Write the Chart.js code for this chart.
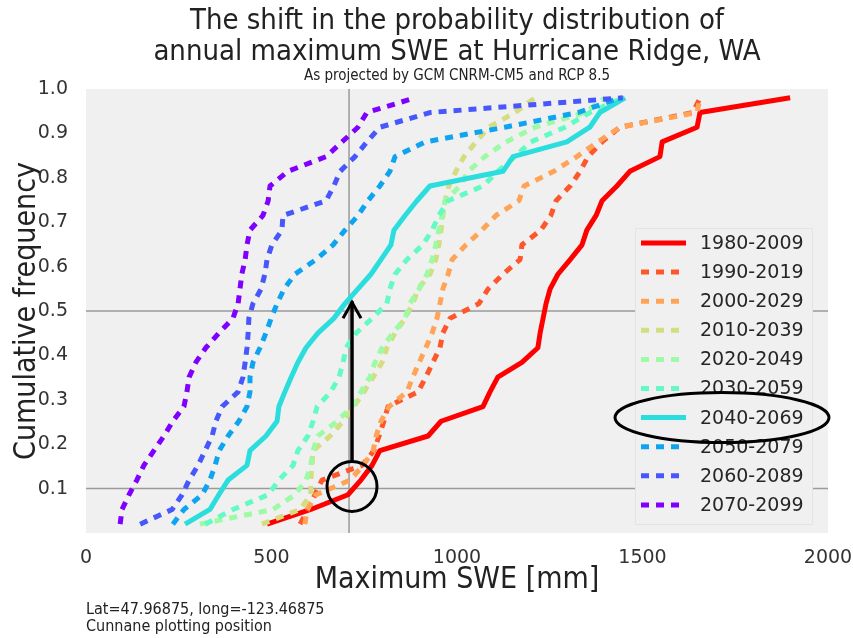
<!DOCTYPE html>
<html>
<head>
<meta charset="utf-8">
<script src="https://cdn.jsdelivr.net/npm/chart.js@4.4.0/dist/chart.umd.min.js"></script>
<style>
  html, body { margin: 0; padding: 0; background: #fff; }
  #wrap { width: 853px; height: 638px; }
</style>
</head>
<body>
<div id="wrap"><canvas id="chart" width="853" height="638"></canvas></div>
<script>
// 30-year periods, one CDF each
const periods = ['1980-2009', '1990-2019', '2000-2029', '2010-2039', '2020-2049',
                 '2030-2059', '2040-2069', '2050-2079', '2060-2089', '2070-2099'];

// Cunnane plotting positions for 30 sorted annual maxima
const probs = [0.0199, 0.0530, 0.0861, 0.1192, 0.1523, 0.1854, 0.2185, 0.2517, 0.2848, 0.3179,
               0.3510, 0.3841, 0.4172, 0.4503, 0.4834, 0.5166, 0.5497, 0.5828, 0.6159, 0.6490,
               0.6821, 0.7152, 0.7483, 0.7815, 0.8146, 0.8477, 0.8808, 0.9139, 0.9470, 0.9801];

// sorted annual maximum SWE [mm] per period
const swe1980 = [488, 606, 706, 741, 771, 792, 922, 957, 1070, 1089, 1110, 1175, 1218, 1224, 1232,
                 1240, 1251, 1272, 1305, 1337, 1350, 1375, 1391, 1431, 1466, 1547, 1553, 1647, 1655, 1898];
const swe1990 = [577, 598, 617, 636, 744, 776, 790, 803, 814, 895, 916, 935, 954, 962, 981,
                 1059, 1084, 1124, 1170, 1175, 1226, 1253, 1267, 1305, 1332, 1353, 1391, 1439, 1636, 1655];
const swe2000 = [590, 596, 620, 712, 747, 774, 782, 795, 817, 865, 881, 898, 916, 933, 946,
                 954, 962, 976, 987, 1024, 1067, 1105, 1167, 1181, 1261, 1323, 1380, 1439, 1647, 1655];
const swe2010 = [474, 577, 606, 606, 609, 612, 658, 693, 722, 749, 774, 798, 811, 833, 860,
                 881, 895, 927, 943, 951, 957, 962, 968, 978, 997, 1019, 1051, 1086, 1156, 1210];
const swe2020 = [307, 504, 563, 593, 606, 612, 625, 677, 717, 741, 765, 779, 798, 827, 860,
                 873, 898, 919, 933, 943, 951, 960, 968, 1008, 1030, 1075, 1132, 1210, 1345, 1399];
const swe2030 = [321, 396, 491, 520, 558, 571, 598, 612, 623, 660, 682, 693, 701, 728, 771,
                 811, 819, 833, 865, 908, 933, 951, 976, 1070, 1110, 1156, 1199, 1291, 1358, 1447];
const swe2040 = [267, 334, 358, 383, 434, 442, 485, 515, 520, 536, 553, 571, 593, 625, 668,
                 698, 733, 768, 795, 822, 830, 860, 892, 927, 1124, 1151, 1296, 1358, 1385, 1453];
const swe2050 = [234, 264, 313, 334, 348, 359, 383, 412, 434, 442, 442, 450, 469, 485, 499,
                 515, 534, 563, 620, 666, 698, 733, 760, 792, 819, 833, 914, 1129, 1326, 1439];
const swe2060 = [146, 232, 259, 278, 302, 321, 340, 350, 367, 410, 423, 429, 434, 437, 439,
                 450, 472, 482, 488, 501, 528, 531, 647, 668, 685, 725, 757, 792, 927, 1447];
const swe2070 = [92, 97, 116, 137, 156, 183, 210, 234, 264, 272, 278, 296, 323, 358, 396,
                 410, 415, 420, 429, 434, 442, 477, 491, 496, 544, 647, 690, 733, 757, 887];

const sweSeries = [swe1980, swe1990, swe2000, swe2010, swe2020,
                   swe2030, swe2040, swe2050, swe2060, swe2070];
const lineColors = ['#ff0000', '#ff572c', '#ffa457', '#d4dd80', '#9cfba4',
                    '#63fbc3', '#2bdddd', '#0ea4f0', '#4757fb', '#8000ff'];
const solidPeriods = ['1980-2009', '2040-2069'];

// reference lines: 10th percentile of 1980-2009 and the 0.1 / 0.5 levels
const refSwe = 709;
const refProbs = [0.1, 0.5];

const xTicks = [0, 500, 1000, 1500, 2000];

const TITLE_FONT = '"DejaVu Sans Condensed", "DejaVu Sans", sans-serif';
const BODY_FONT = '"DejaVu Sans", sans-serif';

const datasets = periods.map((p, i) => ({
    label: p,
    data: sweSeries[i].map((v, k) => ({ x: v, y: probs[k] })),
    borderColor: lineColors[i],
    borderWidth: 5,
    borderDash: solidPeriods.includes(p) ? [] : [8, 7],
    borderCapStyle: 'butt',
    borderJoinStyle: 'round',
    pointRadius: 0,
    tension: 0,
    fill: false,
    order: periods.length - i
}));

function strokeLine(ctx, x1, y1, x2, y2) {
    ctx.beginPath();
    ctx.moveTo(x1, y1);
    ctx.lineTo(x2, y2);
    ctx.stroke();
}

const decorPlugin = {
    id: 'decor',
    beforeDraw(chart) {
        const { ctx, chartArea: a } = chart;
        ctx.save();
        ctx.fillStyle = '#f0f0f0';
        ctx.fillRect(a.left, a.top, a.right - a.left, a.bottom - a.top);
        ctx.restore();
    },
    beforeDatasetsDraw(chart) {
        const { ctx, chartArea: a, scales: { x, y } } = chart;
        ctx.save();
        ctx.strokeStyle = '#9a9a9a';
        ctx.lineWidth = 1.5;
        const vx = x.getPixelForValue(refSwe);
        strokeLine(ctx, vx, a.top, vx, a.bottom);
        refProbs.forEach(p => {
            const py = y.getPixelForValue(p);
            strokeLine(ctx, a.left, py, a.right, py);
        });
        ctx.restore();
    },
    afterDatasetsDraw(chart) {
        const { ctx, chartArea: a, scales: { x, y } } = chart;
        ctx.save();

        // arrow from the circled 10th percentile up to the median level
        const ax = x.getPixelForValue(717);
        const y0 = y.getPixelForValue(0.16);
        const y1 = y.getPixelForValue(0.522);
        ctx.strokeStyle = '#000';
        ctx.lineWidth = 3.5;
        strokeLine(ctx, ax, y0, ax, y1);
        ctx.lineWidth = 3;
        ctx.lineJoin = 'miter';
        ctx.beginPath();
        ctx.moveTo(ax - 9, y1 + 17);
        ctx.lineTo(ax, y1 + 1);
        ctx.lineTo(ax + 9, y1 + 17);
        ctx.stroke();

        // circle
        ctx.beginPath();
        ctx.arc(ax, y.getPixelForValue(0.105), 25, 0, Math.PI * 2);
        ctx.stroke();

        // legend inside the axes
        const boxR = a.right - 15, boxB = a.bottom - 8;
        const boxL = boxR - 178, boxT = boxB - 297;
        ctx.fillStyle = '#f0f0f0';
        ctx.fillRect(boxL, boxT, boxR - boxL, boxB - boxT);
        ctx.strokeStyle = '#e4e4e4';
        ctx.lineWidth = 1;
        ctx.strokeRect(boxL + 0.5, boxT + 0.5, boxR - boxL - 1, boxB - boxT - 1);
        ctx.font = '19px ' + BODY_FONT;
        ctx.textBaseline = 'middle';
        ctx.textAlign = 'left';
        const rowY = [];
        chart.data.datasets.forEach((ds, i) => {
            const ry = boxT + 15 + i * 29.1;
            rowY.push(ry);
            ctx.strokeStyle = ds.borderColor;
            ctx.lineWidth = ds.borderWidth;
            ctx.lineCap = 'butt';
            ctx.setLineDash(ds.borderDash);
            strokeLine(ctx, boxL + 6, ry, boxL + 51, ry);
            ctx.setLineDash([]);
            ctx.fillStyle = '#262626';
            ctx.fillText(ds.label, boxL + 65, ry + 1);
        });

        // ellipse around the highlighted period
        const hi = periods.indexOf('2040-2069');
        ctx.strokeStyle = '#000';
        ctx.lineWidth = 3;
        ctx.beginPath();
        ctx.ellipse(boxL + 87, rowY[hi], 107, 25, 0, 0, Math.PI * 2);
        ctx.stroke();

        ctx.restore();
    },
    afterDraw(chart) {
        const { ctx, chartArea: a } = chart;
        const cx = (a.left + a.right) / 2;
        ctx.save();
        ctx.fillStyle = '#222';
        ctx.textAlign = 'center';
        ctx.textBaseline = 'alphabetic';
        ctx.font = '29px ' + TITLE_FONT;
        ctx.fillText('The shift in the probability distribution of', cx, 29, 546);
        ctx.fillText('annual maximum SWE at Hurricane Ridge, WA', cx, 60, 620);
        ctx.font = '15px ' + TITLE_FONT;
        ctx.fillText('As projected by GCM CNRM-CM5 and RCP 8.5', cx, 80, 364);
        ctx.textAlign = 'left';
        ctx.font = '16px ' + TITLE_FONT;
        ctx.fillText('Lat=47.96875, long=-123.46875', a.left, 614, 264);
        ctx.fillText('Cunnane plotting position', a.left, 631, 207);
        ctx.restore();
    }
};

new Chart(document.getElementById('chart'), {
    type: 'line',
    data: { datasets: datasets },
    plugins: [decorPlugin],
    options: {
        responsive: false,
        animation: false,
        devicePixelRatio: 1,
        layout: { padding: { top: 89, right: 25, bottom: 30, left: 0 } },
        scales: {
            x: {
                type: 'linear',
                min: 0,
                max: 2000,
                afterFit: s => {
                    s.height = 75;
                    s.paddingLeft = 0;
                    s.paddingRight = 0;
                },
                afterBuildTicks: s => { s.ticks = xTicks.map(v => ({ value: v })); },
                grid: { display: false },
                border: { display: false },
                ticks: {
                    color: '#333',
                    padding: 6,
                    font: { family: BODY_FONT, size: 19 },
                    callback: v => String(v)
                },
                title: {
                    display: true,
                    text: 'Maximum SWE [mm]',
                    color: '#222',
                    padding: { top: 0, bottom: 10 },
                    font: { family: TITLE_FONT, size: 30 }
                }
            },
            y: {
                type: 'linear',
                min: 0,
                max: 1,
                afterFit: s => { s.width = 86; },
                grid: { display: false },
                border: { display: false },
                ticks: {
                    stepSize: 0.1,
                    color: '#333',
                    padding: 10,
                    font: { family: BODY_FONT, size: 19 },
                    callback: v => (v === 0 ? '' : v.toFixed(1))
                },
                title: {
                    display: true,
                    text: 'Cumulative frequency',
                    color: '#222',
                    padding: { top: 9, bottom: 0 },
                    font: { family: TITLE_FONT, size: 30 }
                }
            }
        },
        plugins: {
            legend: { display: false },
            tooltip: { enabled: false },
            title: { display: false }
        }
    }
});
</script>
</body>
</html>
